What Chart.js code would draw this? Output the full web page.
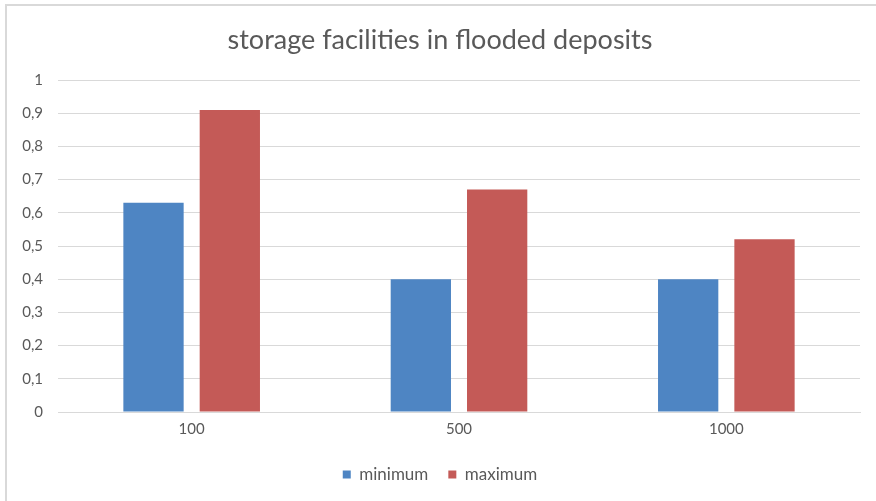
<!DOCTYPE html>
<html>
<head>
<meta charset="utf-8">
<script src="https://cdn.jsdelivr.net/npm/chart.js@4/dist/chart.umd.min.js"></script>
<style>
  html, body { margin: 0; padding: 0; background: #ffffff; }
  #wrap { position: relative; width: 876px; height: 501px; overflow: hidden; }
  #frame { position: absolute; left: 5px; top: 4px; width: 900px; height: 520px; border: 2px solid #d9d9d9; box-sizing: border-box; }
  #chart { position: absolute; left: 0; top: 0; }
</style>
</head>
<body>
<div id="wrap">
  <div id="frame"></div>
  <canvas id="chart" width="876" height="501"></canvas>
</div>
<script>
// data
const categories = ["100", "500", "1000"];
const minimumValues = [0.63, 0.40, 0.40];
const maximumValues = [0.91, 0.67, 0.52];
const yTickLabels = ["0", "0,1", "0,2", "0,3", "0,4", "0,5", "0,6", "0,7", "0,8", "0,9", "1"];

const textColor = "#595959";
const fontFamily = "Lato, 'Open Sans', sans-serif";

const ctx = document.getElementById("chart").getContext("2d");

new Chart(ctx, {
    type: "bar",
    data: {
        labels: categories,
        datasets: [{
            label: "minimum",
            data: minimumValues,
            backgroundColor: "#4E85C3",
            categoryPercentage: 0.571,
            barPercentage: 0.79
        }, {
            label: "maximum",
            data: maximumValues,
            backgroundColor: "#C45A57",
            categoryPercentage: 0.571,
            barPercentage: 0.79
        }]
    },
    options: {
        responsive: false,
        animation: false,
        layout: { padding: { left: 4, right: 0, top: 0, bottom: 8 } },
        plugins: {
            title: {
                display: true,
                text: "storage facilities in flooded deposits",
                color: textColor,
                font: { family: fontFamily, size: 27, weight: "normal" },
                padding: { top: 24, bottom: 23.6 }
            },
            legend: {
                position: "bottom",
                labels: {
                    color: textColor,
                    font: { family: fontFamily, size: 17 },
                    boxWidth: 8,
                    boxHeight: 8,
                    padding: 20
                }
            },
            tooltip: { enabled: false }
        },
        scales: {
            x: {
                grid: { display: false, drawTicks: false },
                border: { color: "#d9d9d9" },
                ticks: { color: textColor, font: { family: fontFamily, size: 15 }, padding: 8 }
            },
            y: {
                min: 0,
                max: 1,
                afterFit: scale => { scale.width = 54; },
                grid: { color: "#d9d9d9", drawTicks: false },
                border: { display: false },
                ticks: {
                    stepSize: 0.1,
                    color: textColor,
                    font: { family: fontFamily, size: 15 },
                    padding: 15,
                    callback: (value, index) => yTickLabels[index]
                }
            },
            // empty axis on the right, only to keep the plot off the right edge
            right: {
                position: "right",
                min: 0,
                max: 1,
                afterFit: scale => { scale.width = 16; },
                grid: { display: false, drawTicks: false },
                border: { display: false },
                ticks: { display: false }
            }
        }
    }
});
</script>
</body>
</html>
